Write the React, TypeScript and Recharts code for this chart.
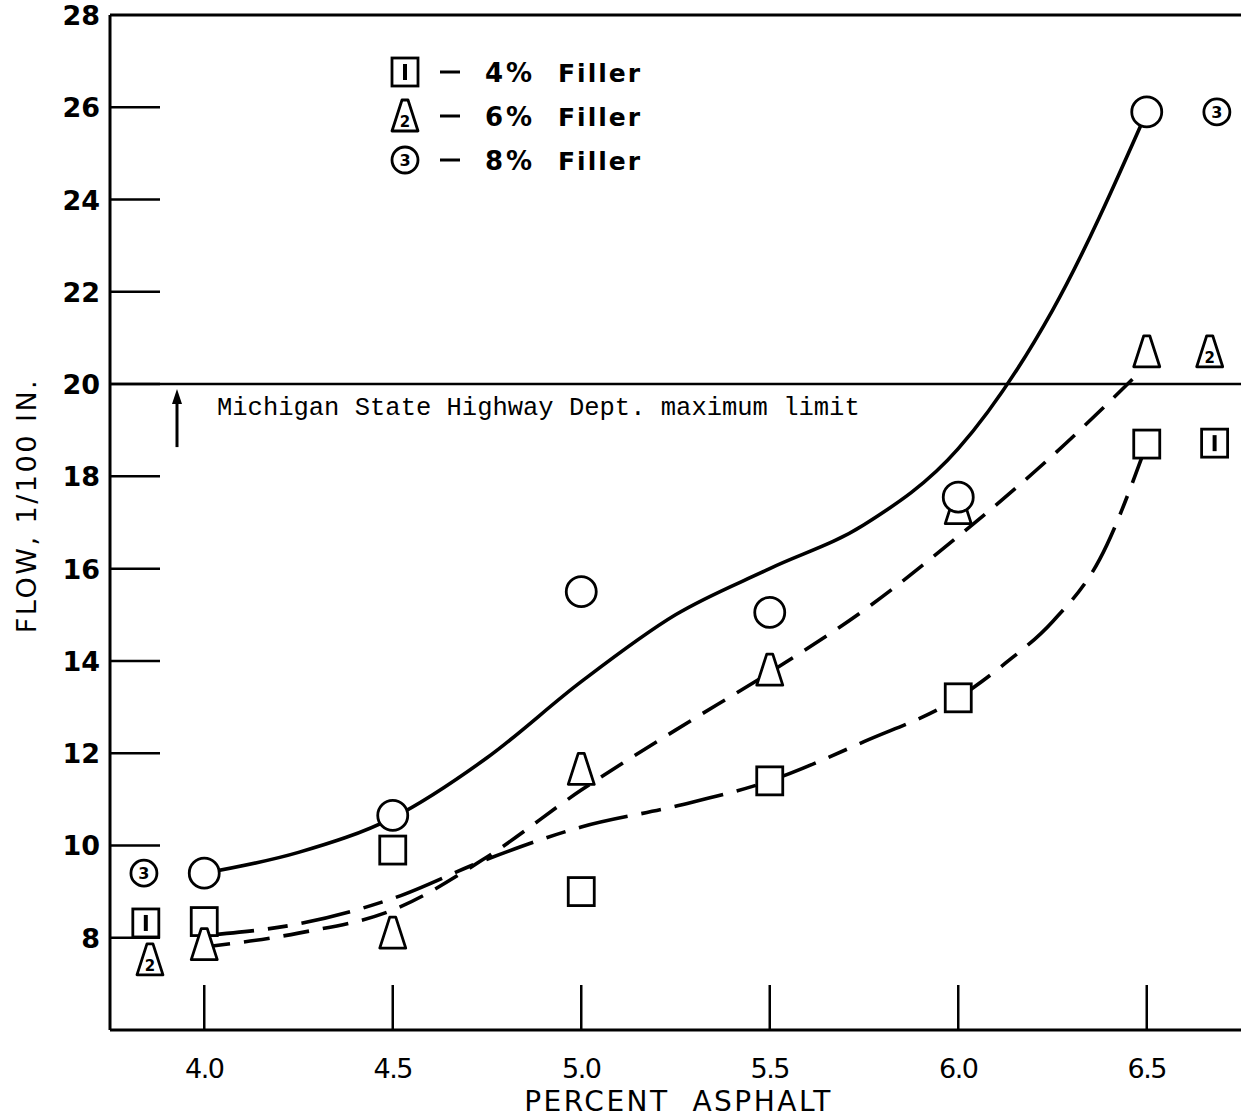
import React from "react";
import {
  ComposedChart,
  Line,
  Scatter,
  XAxis,
  YAxis,
  ReferenceLine,
  Legend,
} from "recharts";

// measured points
const asphaltPct = [4.0, 4.5, 5.0, 5.5, 6.0, 6.5];
const flow4 = [8.35, 9.9, 9.0, 11.4, 13.2, 18.7];
const flow6 = [7.85, 8.1, 11.65, 13.8, 17.3, 20.7];
const flow8 = [9.4, 10.65, 15.5, 15.05, 17.55, 25.9];

// hand-fitted curves
const fit4X = [4.0, 4.25, 4.5, 4.75, 5.0, 5.25, 5.5, 5.75, 6.0, 6.125, 6.25, 6.375, 6.5];
const fit4Y = [8.05, 8.3, 8.85, 9.7, 10.4, 10.85, 11.4, 12.25, 13.2, 13.95, 14.85, 16.2, 18.7];
const fit6X = [4.0, 4.25, 4.5, 4.75, 5.0, 5.25, 5.5, 5.75, 6.0, 6.25, 6.48];
const fit6Y = [7.8, 8.1, 8.6, 9.75, 11.2, 12.5, 13.75, 15.1, 16.7, 18.45, 20.25];
const fit8X = [4.0, 4.25, 4.5, 4.75, 5.0, 5.25, 5.5, 5.75, 6.0, 6.25, 6.5];
const fit8Y = [9.4, 9.85, 10.6, 11.9, 13.55, 15.0, 16.0, 16.95, 18.6, 21.6, 25.9];

// numbered tags beside the curve ends
const tag4X = [3.845, 6.68];
const tag4Y = [8.32, 18.72];
const tag6X = [3.856, 6.667];
const tag6Y = [7.52, 20.7];
const tag8X = [3.84, 6.686];
const tag8Y = [9.4, 25.9];

const xTicks = [4.0, 4.5, 5.0, 5.5, 6.0, 6.5];
const yTicks = [8, 10, 12, 14, 16, 18, 20, 22, 24, 26, 28];
const limitFlow = 20;

const pts = (xs: number[], ys: number[]) => xs.map((x, i) => ({ x, y: ys[i] }));

const FONT = "'DejaVu Sans', Verdana, sans-serif";
const INK = "#000";

const SquareMark = ({ cx, cy, tag }: any) => (
  <g>
    <rect x={cx - 13} y={cy - 14} width={26} height={28} fill="#fff" stroke={INK} strokeWidth={2.8} />
    {tag && <line x1={cx} x2={cx} y1={cy - 8} y2={cy + 8} stroke={INK} strokeWidth={4} />}
  </g>
);

const TriangleMark = ({ cx, cy, tag }: any) => (
  <g>
    <polygon
      points={`${cx - 3},${cy - 16} ${cx + 3},${cy - 16} ${cx + 13},${cy + 15} ${cx - 13},${cy + 15}`}
      fill="#fff"
      stroke={INK}
      strokeWidth={2.8}
      strokeLinejoin="round"
    />
    {tag && (
      <text x={cx} y={cy + 11} textAnchor="middle" fontFamily={FONT} fontWeight={700} fontSize={15}>
        2
      </text>
    )}
  </g>
);

const CircleMark = ({ cx, cy, tag }: any) => (
  <g>
    <circle cx={cx} cy={cy} r={tag ? 13 : 15} fill="#fff" stroke={INK} strokeWidth={2.8} />
    {tag && (
      <text x={cx} y={cy + 6} textAnchor="middle" fontFamily={FONT} fontWeight={700} fontSize={16}>
        3
      </text>
    )}
  </g>
);

const YTick = (props: any) => {
  const { x, y, payload } = props;
  const v = payload.value;
  return (
    <g>
      {v !== 28 && <line x1={x} x2={x + 50} y1={y} y2={y} stroke={INK} strokeWidth={2.5} />}
      <text x={x - 10} y={y + 10} textAnchor="end" fontFamily={FONT} fontWeight={700} fontSize={27} fill={INK}>
        {v}
      </text>
    </g>
  );
};

const XTick = (props: any) => {
  const { x, y, payload } = props;
  return (
    <g>
      <line x1={x} x2={x} y1={y} y2={y - 45} stroke={INK} strokeWidth={2.5} />
      <text x={x} y={y + 48} textAnchor="middle" fontFamily={FONT} fontSize={27} letterSpacing={-1.5} fill={INK}>
        {Number(payload.value).toFixed(1)}
      </text>
    </g>
  );
};

const YLabel = ({ viewBox }: any) => {
  const cx = viewBox.x + 26;
  const cy = viewBox.y + viewBox.height / 2 - 17;
  return (
    <text
      x={cx}
      y={cy}
      transform={`rotate(-90, ${cx}, ${cy})`}
      textAnchor="middle"
      dominantBaseline="central"
      fontFamily={FONT}
      fontSize={27}
      letterSpacing={2.5}
      fill={INK}
    >
      FLOW, 1/100 IN.
    </text>
  );
};

const XLabel = ({ viewBox }: any) => (
  <text
    x={viewBox.x + viewBox.width / 2 + 3}
    y={viewBox.y + 81}
    textAnchor="middle"
    fontFamily={FONT}
    fontSize={28}
    letterSpacing={2.5}
    style={{ whiteSpace: "pre" }}
    fill={INK}
  >
    PERCENT  ASPHALT
  </text>
);

const LimitLabel = ({ viewBox }: any) => {
  const { x, y } = viewBox;
  const ax = x + 67;
  return (
    <g>
      <line x1={ax} x2={ax} y1={y + 63} y2={y + 16} stroke={INK} strokeWidth={3} />
      <polygon points={`${ax - 5},${y + 20} ${ax + 5},${y + 20} ${ax},${y + 5}`} fill={INK} />
      <text x={x + 107} y={y + 31} fontFamily="'Liberation Mono', 'DejaVu Sans Mono', monospace" fontSize={25.5} fill={INK}>
        Michigan State Highway Dept. maximum limit
      </text>
    </g>
  );
};

const legendRows = [
  { key: "4", label: "4%", Mark: SquareMark },
  { key: "6", label: "6%", Mark: TriangleMark },
  { key: "8", label: "8%", Mark: CircleMark },
];

const LegendBox = () => (
  <svg width={300} height={140}>
    {legendRows.map((r, i) => {
      const cy = 27 + i * 44;
      return (
        <g key={r.key}>
          <r.Mark cx={20} cy={cy} tag />
          <line x1={55} x2={75} y1={cy} y2={cy} stroke={INK} strokeWidth={3} />
          <text x={100} y={cy + 10} fontFamily={FONT} fontWeight={700} fontSize={26} letterSpacing={3}>
            {r.label}
          </text>
          <text x={173} y={cy + 10} fontFamily={FONT} fontWeight={700} fontSize={25} letterSpacing={2}>
            Filler
          </text>
        </g>
      );
    })}
  </svg>
);

export default function App() {
  const obs4 = pts(asphaltPct, flow4);
  const obs6 = pts(asphaltPct, flow6);
  const obs8 = pts(asphaltPct, flow8);

  return (
    <div style={{ position: "absolute", left: 0, top: 0, background: "#fff" }}>
      <ComposedChart width={1241} height={1120} margin={{ top: 15, right: 0, bottom: 0, left: 0 }}>
        <XAxis
          dataKey="x"
          type="number"
          domain={[3.75, 6.75]}
          ticks={xTicks}
          allowDataOverflow
          height={90}
          tickSize={0}
          tickMargin={0}
          tickLine={false}
          axisLine={{ stroke: INK, strokeWidth: 3 }}
          tick={<XTick />}
          label={<XLabel />}
        />
        <YAxis
          dataKey="y"
          type="number"
          domain={[6, 28]}
          ticks={yTicks}
          allowDataOverflow
          width={110}
          tickSize={0}
          tickMargin={0}
          tickLine={false}
          axisLine={{ stroke: INK, strokeWidth: 3 }}
          tick={<YTick />}
          label={<YLabel />}
        />
        <ReferenceLine y={28} stroke={INK} strokeWidth={3} />
        <ReferenceLine y={limitFlow} stroke={INK} strokeWidth={2.5} label={<LimitLabel />} />
        <Legend
          layout="horizontal"
          verticalAlign="middle"
          align="center"
          wrapperStyle={{ top: 45, left: 385, width: 300, height: 140 }}
          content={() => <LegendBox />}
        />
        <Line
          data={pts(fit8X, fit8Y)}
          dataKey="y"
          type="monotone"
          stroke={INK}
          strokeWidth={3.6}
          dot={false}
          activeDot={false}
          isAnimationActive={false}
        />
        <Line
          data={pts(fit6X, fit6Y)}
          dataKey="y"
          type="monotone"
          stroke={INK}
          strokeWidth={3.6}
          strokeDasharray="26 14"
          dot={false}
          activeDot={false}
          isAnimationActive={false}
        />
        <Line
          data={pts(fit4X, fit4Y)}
          dataKey="y"
          type="monotone"
          stroke={INK}
          strokeWidth={3.6}
          strokeDasharray="50 14 20 14"
          dot={false}
          activeDot={false}
          isAnimationActive={false}
        />
        <Scatter data={obs4} dataKey="y" isAnimationActive={false} shape={(p: any) => <SquareMark cx={p.cx} cy={p.cy} />} />
        <Scatter data={obs6} dataKey="y" isAnimationActive={false} shape={(p: any) => <TriangleMark cx={p.cx} cy={p.cy} />} />
        <Scatter data={obs8} dataKey="y" isAnimationActive={false} shape={(p: any) => <CircleMark cx={p.cx} cy={p.cy} />} />
        <Scatter data={pts(tag4X, tag4Y)} dataKey="y" isAnimationActive={false} shape={(p: any) => <SquareMark cx={p.cx} cy={p.cy} tag />} />
        <Scatter data={pts(tag6X, tag6Y)} dataKey="y" isAnimationActive={false} shape={(p: any) => <TriangleMark cx={p.cx} cy={p.cy} tag />} />
        <Scatter data={pts(tag8X, tag8Y)} dataKey="y" isAnimationActive={false} shape={(p: any) => <CircleMark cx={p.cx} cy={p.cy} tag />} />
      </ComposedChart>
    </div>
  );
}
